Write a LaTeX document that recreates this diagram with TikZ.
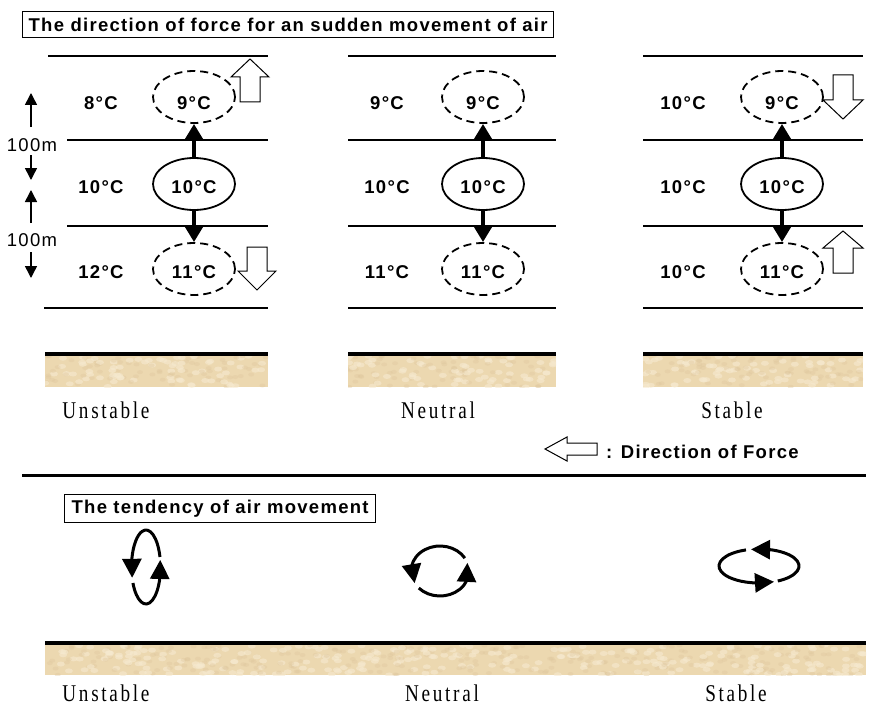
\documentclass[tikz,border=0pt]{standalone}
\usepackage{fontspec}
\setmainfont{Liberation Sans}
\newfontfamily\headsans[LetterSpace=7]{Liberation Sans}
\newfontfamily\labelserif[LetterSpace=14]{Liberation Serif}
\usetikzlibrary{arrows.meta,shapes.geometric,bending}

\definecolor{sand}{RGB}{236,216,176}
\definecolor{sandlight}{RGB}{246,234,208}
\definecolor{sanddark}{RGB}{222,198,156}

\newcommand\narrowtext[1]{\scalebox{0.8}[1]{#1}}

\tikzset{
  layer/.style={line width=1.6pt},
  tempc/.style={font=\headsans\bfseries\fontsize{18.5}{20}\selectfont, inner sep=0pt},
  meter/.style={font=\headsans\fontsize{18.5}{20}\selectfont, inner sep=0pt},
  gauge/.style={line width=1.5pt, -{Triangle[length=12pt,width=12pt]}},
  parcel/.style={ellipse, draw, line width=1.8pt, minimum width=82pt, minimum height=52pt, inner sep=0pt},
  lifted/.style={parcel, dash pattern=on 8pt off 5pt},
  push/.style={line width=4pt, -{Triangle[length=16pt,width=18pt]}},
  hollow/.style={draw, line width=1pt, fill=white, line join=miter},
  caption/.style={font=\labelserif\fontsize{24}{26}\selectfont, inner sep=0pt},
  titlebox/.style={draw, line width=1.2pt, anchor=north west, inner xsep=5pt,
    font=\headsans\bfseries\fontsize{18.5}{20}\selectfont},
  swirl/.style={line width=3pt, -{Triangle[length=19pt,width=19pt]}},
  ground/.style={line width=4pt},
}

% textured sand strip: corners (x1,y1) and (x2,y2)
\newcommand\sandstrip[4]{%
  \begin{scope}
    \clip (#1,#2) rectangle (#3,#4);
    \fill[sand] (#1,#2) rectangle (#3,#4);
    \pgfmathsetmacro\stripw{#3-#1}
    \pgfmathsetmacro\striph{#4-#2}
    \pgfmathtruncatemacro\blots{\stripw/3}
    \foreach \k in {1,...,\blots}{
      \pgfmathsetmacro\bx{#1+rnd*\stripw}
      \pgfmathsetmacro\by{#2+rnd*\striph}
      \fill[sandlight,opacity=0.6] (\bx,\by) ellipse[x radius=4, y radius=2.5];
      \pgfmathsetmacro\cx{#1+rnd*\stripw}
      \pgfmathsetmacro\cy{#2+rnd*\striph}
      \fill[sanddark,opacity=0.35] (\cx,\cy) ellipse[x radius=3, y radius=2];
    }
  \end{scope}}

\begin{document}
\begin{tikzpicture}[x=1pt,y=-1pt]
\pgfmathsetseed{11}
\useasboundingbox (0,0) rectangle (874,706);

% ---------- heading ----------
\node[titlebox, minimum width=531pt, minimum height=26pt] (title1) at (22,11)
  {The direction of force for an sudden movement of air};

% ---------- layer lines ----------
\draw[layer] (48,56) -- (268,56);
\draw[layer] (67,140) -- (268,140);
\draw[layer] (67,226) -- (268,226);
\draw[layer] (44,308) -- (268,308);
\foreach \xa/\xb in {348/556, 643/863}{
  \foreach \yy in {56,140,226,308}
    \draw[layer] (\xa,\yy) -- (\xb,\yy);
}

% ---------- height scale ----------
\node[meter] (m1) at (32,145) {100m};
\node[meter] (m2) at (32,240) {100m};
\coordinate (m1up) at (31,93);  \coordinate (m1upb) at (31,127);
\coordinate (m1dn) at (31,180); \coordinate (m1dnb) at (31,155);
\coordinate (m2up) at (31,190); \coordinate (m2upb) at (31,223);
\coordinate (m2dn) at (31,278); \coordinate (m2dnb) at (31,252);
\draw[gauge] (m1upb) -- (m1up);
\draw[gauge] (m1dnb) -- (m1dn);
\draw[gauge] (m2upb) -- (m2up);
\draw[gauge] (m2dnb) -- (m2dn);

% ---------- environment temperatures ----------
\node[tempc] (u-a) at (101,103) {8°C};
\node[tempc] (u-b) at (101,187) {10°C};
\node[tempc] (u-c) at (101,272) {12°C};
\node[tempc] (n-a) at (387,103) {9°C};
\node[tempc] (n-b) at (387,187) {10°C};
\node[tempc] (n-c) at (387,272) {11°C};
\node[tempc] (s-a) at (683,103) {10°C};
\node[tempc] (s-b) at (683,187) {10°C};
\node[tempc] (s-c) at (683,272) {10°C};

% ---------- air parcels ----------
\foreach \p/\px in {u/194, n/483, s/782}{
  \node[lifted] (\p-up) at (\px,97) {};
  \node[parcel] (\p-mid) at (\px,184) {};
  \node[lifted] (\p-low) at (\px,269) {};
  \node[tempc] (\p-upt) at (\px,103) {9°C};
  \node[tempc] (\p-midt) at (\px,187) {10°C};
  \node[tempc] (\p-lowt) at (\px,272) {11°C};
  \draw[push] (\p-mid.north) -- (\p-up.south);
  \draw[push] (\p-mid.south) -- (\p-low.north);
}

% ---------- force arrows (hollow) ----------
\draw[hollow] (240,102) -- (240,77) -- (231,77) -- (250,59) -- (269,77) -- (260,77) -- (260,102) -- cycle;
\draw[hollow] (247,247) -- (247,271) -- (238,271) -- (257,290) -- (276,271) -- (267,271) -- (267,247) -- cycle;
\draw[hollow] (833,75) -- (833,100) -- (823,100) -- (843,119) -- (863,100) -- (853,100) -- (853,75) -- cycle;
\draw[hollow] (833,273) -- (833,248) -- (823,248) -- (843,231) -- (863,248) -- (853,248) -- (853,273) -- cycle;

% ---------- ground (upper) ----------
\foreach \xa/\xb in {45/268, 348/556, 643/863}{
  \sandstrip{\xa}{356}{\xb}{387}
  \draw[ground] (\xa,354) -- (\xb,354);
}
\node[caption] (cap-u1) at (106,410) {\narrowtext{Unstable}};
\node[caption] (cap-n1) at (438,410) {\narrowtext{Neutral}};
\node[caption] (cap-s1) at (732,410) {\narrowtext{Stable}};

% ---------- legend ----------
\draw[hollow] (545,449) -- (567,437) -- (567,443) -- (597,443) -- (597,455) -- (567,455) -- (567,461) -- cycle;
\node[tempc, anchor=west] (legend) at (606,452) {: Direction of Force};

% ---------- separator ----------
\draw[line width=3pt] (22,475) -- (866,475);

% ---------- tendency of air movement ----------
\node[titlebox, minimum width=311pt, minimum height=28pt] (title2) at (64,494)
  {The tendency of air movement};

% unstable: tall loop
\draw[swirl] (146,567) ++(-15.7:14.5 and 37) arc[start angle=-15.7, end angle=-197, x radius=14.5, y radius=37];
\draw[swirl] (146,567) ++(-205.6:14.5 and 37) arc[start angle=-205.6, end angle=-371, x radius=14.5, y radius=37];
% neutral: round loop
\draw[swirl] (440,571) ++(-31:29 and 25) arc[start angle=-31, end angle=-209, x radius=29, y radius=25];
\draw[swirl] (440,571) ++(-223:29 and 25) arc[start angle=-223, end angle=-379, x radius=29, y radius=25];
% stable: flat loop
\draw[swirl] (759,566) ++(62:40 and 17) arc[start angle=62, end angle=-101.5, x radius=40, y radius=17];
\draw[swirl] (759,566) ++(-109:40 and 17) arc[start angle=-109, end angle=-292, x radius=40, y radius=17];

% ---------- ground (lower) ----------
\sandstrip{45}{645}{866}{675}
\draw[ground] (45,643) -- (866,643);
\node[caption] (cap-u2) at (106,693) {\narrowtext{Unstable}};
\node[caption] (cap-n2) at (442,693) {\narrowtext{Neutral}};
\node[caption] (cap-s2) at (736,693) {\narrowtext{Stable}};
\end{tikzpicture}
\end{document}
